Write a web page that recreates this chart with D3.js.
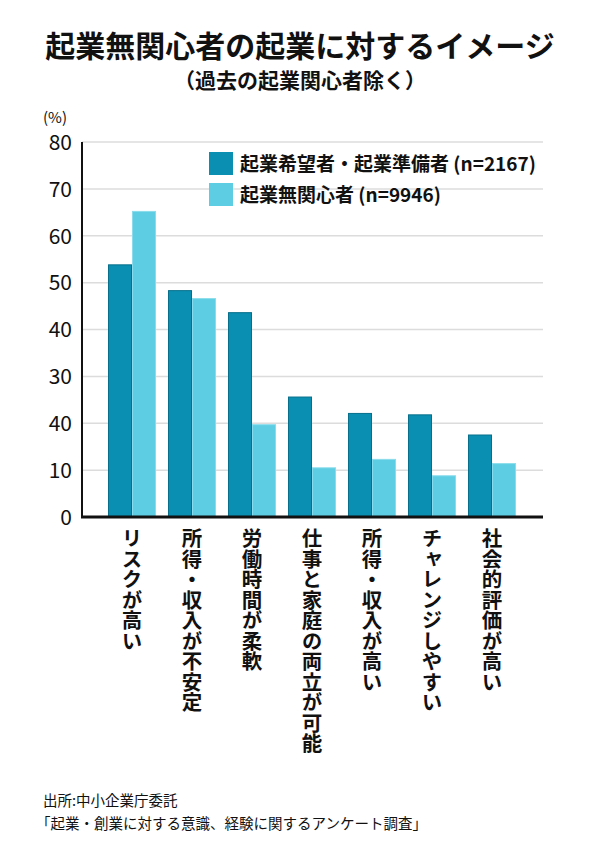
<!DOCTYPE html>
<html><head><meta charset="utf-8">
<script src="https://cdn.jsdelivr.net/npm/d3@7"></script>
<style>
html,body{margin:0;padding:0;background:#fff;}
svg{display:block;font-family:"Noto Sans CJK JP","Noto Sans",sans-serif;}
</style></head>
<body>
<svg id="chart" width="600" height="863"></svg>
<script>
const categories = ["リスクが高い","所得・収入が不安定","労働時間が柔軟","仕事と家庭の両立が可能","所得・収入が高い","チャレンジしやすい","社会的評価が高い"];
const seriesNames = ["起業希望者・起業準備者 (n=2167)","起業無関心者 (n=9946)"];
const hopefulValues = [53.9, 48.4, 43.7, 25.7, 22.2, 21.9, 17.6];
const indifferentValues = [65.3, 46.7, 19.8, 10.6, 12.4, 8.9, 11.5];
const tickValues = [0,10,20,30,40,50,60,70,80];
const tickLabels = ["0","10","40","30","40","50","60","70","80"];
const colors = ["#0a8fb2","#5ccde2"];
const strokes = ["#06708c","#8adcec"];

const svg = d3.select("#chart");
const plotLeft = 82, plotRight = 543, plotTop = 142, plotBottom = 517;

const x = d3.scaleBand().domain(categories).range([102, 522]).paddingInner(0.2).paddingOuter(0.1);
const xs = d3.scaleBand().domain([0,1]).range([0, x.bandwidth()]);
const y = d3.scaleLinear().domain([0,80]).range([plotBottom, plotTop]);

// title
svg.append("text").attr("x",300).attr("y",57).attr("text-anchor","middle")
  .attr("font-size",30).attr("font-weight",700).attr("fill","#111")
  .text("起業無関心者の起業に対するイメージ");
svg.append("text").attr("x",300).attr("y",88).attr("text-anchor","middle")
  .attr("font-size",21).attr("font-weight",700).attr("fill","#111")
  .text("（過去の起業関心者除く）");
svg.append("text").attr("x",43).attr("y",123)
  .attr("font-size",15).attr("font-weight",400).attr("fill","#111")
  .text("(%)");

// gridlines
svg.append("g").selectAll("line").data(tickValues.filter(d=>d>0)).join("line")
  .attr("x1",plotLeft).attr("x2",plotRight).attr("y1",d=>y(d)).attr("y2",d=>y(d))
  .attr("stroke","#dcdcdc").attr("stroke-width",1.5);

// y axis
const yAxis = svg.append("g").attr("transform",`translate(${plotLeft},0)`)
  .call(d3.axisLeft(y).tickValues(tickValues).tickSize(0).tickPadding(10)
    .tickFormat((d,i)=>tickLabels[i]));
yAxis.select(".domain").remove();
yAxis.selectAll("text").attr("font-size",21).attr("fill","#111")
  .attr("font-family","'Noto Sans CJK JP',sans-serif").attr("dy","0.35em");

// bars
const series = [hopefulValues, indifferentValues];
series.forEach((vals, s) => {
  svg.append("g").selectAll("rect").data(categories).join("rect")
    .attr("x",(c)=>x(c)+xs(s)+0.5)
    .attr("y",(c,i)=>y(vals[i])+0.5)
    .attr("width",xs.bandwidth()-1)
    .attr("height",(c,i)=>y(0)-y(vals[i])-0.5)
    .attr("fill",colors[s]).attr("stroke",strokes[s]).attr("stroke-width",1);
});

// axis lines
svg.append("line").attr("x1",plotLeft).attr("x2",plotLeft).attr("y1",plotTop).attr("y2",plotBottom+1)
  .attr("stroke","#111").attr("stroke-width",2);
svg.append("line").attr("x1",plotLeft-1).attr("x2",plotRight).attr("y1",plotBottom).attr("y2",plotBottom)
  .attr("stroke","#111").attr("stroke-width",3);

// category labels vertical
svg.append("g").selectAll("text").data(categories).join("text")
  .attr("x",c=>x(c)+x.bandwidth()/2).attr("y",528)
  .style("writing-mode","vertical-rl").style("text-orientation","upright")
  .attr("font-size",20.5).attr("font-weight",700).attr("fill","#111")
  .text(c=>c);

// legend
const lg = svg.append("g");
seriesNames.forEach((name,i)=>{
  const ly = 152 + i*31;
  lg.append("rect").attr("x",209).attr("y",ly).attr("width",24).attr("height",23)
    .attr("fill",colors[i]);
  lg.append("text").attr("x",240).attr("y",ly+12).attr("dy","0.36em")
    .attr("font-size",19).attr("font-weight",700).attr("fill","#111").text(name);
});

// source
svg.append("text").attr("x",43).attr("y",806).attr("font-size",14.5).attr("fill","#111")
  .text("出所:中小企業庁委託");
svg.append("text").attr("x",36).attr("y",829).attr("font-size",14.5).attr("fill","#111")
  .text("「起業・創業に対する意識、経験に関するアンケート調査」");
</script>
</body></html>
